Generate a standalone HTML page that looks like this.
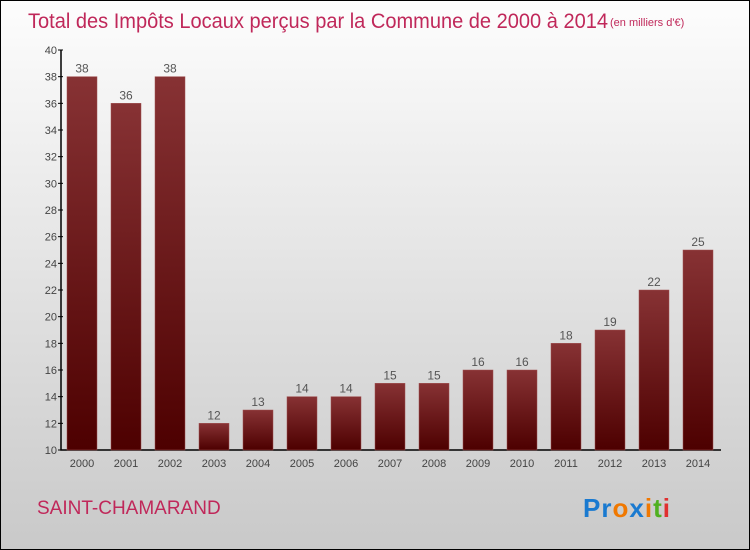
<!DOCTYPE html>
<html><head><meta charset="utf-8"><style>
body{margin:0}
#c{position:relative;width:748px;height:548px;border:1px solid #000;background:linear-gradient(#fdfdfd,#c9c9c9);font-family:"Liberation Sans",sans-serif;overflow:hidden}
</style></head><body>
<div id="c">
<svg id="s" width="748" height="548">
<defs><linearGradient id="g" x1="0" y1="0" x2="0" y2="1"><stop offset="0" stop-color="#873234"/><stop offset="1" stop-color="#4d0000"/></linearGradient></defs>
<text x="27" y="27" font-size="21" fill="#c0285a" textLength="580" lengthAdjust="spacingAndGlyphs">Total des Impôts Locaux perçus par la Commune de 2000 à 2014</text>
<text x="609" y="25" font-size="11" fill="#c0285a">(en milliers d'€)</text>
<text x="36" y="513" font-size="19" fill="#c0285a">SAINT-CHAMARAND</text>
<text x="582" y="516" font-size="26" font-weight="bold" letter-spacing="1"><tspan fill="#1a7ad0">Pr</tspan><tspan fill="#f07800">o</tspan><tspan fill="#1a7ad0">x</tspan><tspan fill="#f07800">i</tspan><tspan fill="#50b020">t</tspan><tspan fill="#e03030">i</tspan></text>
<g id="plot"></g>
</svg>
</div>
<script>
const years=["2000","2001","2002","2003","2004","2005","2006","2007","2008","2009","2010","2011","2012","2013","2014"];
const values=[38,36,38,12,13,14,14,15,15,16,16,18,19,22,25];
const yTicks=[10,12,14,16,18,20,22,24,26,28,30,32,34,36,38,40];
const NS="http://www.w3.org/2000/svg";
const g=document.getElementById('plot');
const x0=60,y0=449,yTop=49,yMin=10,yMax=40;
const y=v=>y0-(v-yMin)/(yMax-yMin)*(y0-yTop);
const step=44,bw=30;
const xc=i=>81+i*step;
function el(t,a){const e=document.createElementNS(NS,t);for(const k in a)e.setAttribute(k,a[k]);g.appendChild(e);return e;}
const ax=el('path',{d:`M${x0} ${yTop}V${y0}H720`,stroke:'#000',fill:'none','stroke-width':1.5});


yTicks.forEach(v=>{
 const t=el('line',{x1:x0-3,x2:x0+2,y1:y(v),y2:y(v),stroke:'#000'});
 
 
 const l=el('text',{x:x0-4,y:y(v)+4,'font-size':11,fill:'#444','text-anchor':'end'});
 l.textContent=v;
 
 
});
values.forEach((v,i)=>{
 const r=el('rect',{x:xc(i)-bw/2,y:y(v),width:bw,height:y0-y(v),fill:'url(#g)',stroke:'#a05050','stroke-width':0.5});
 
 
 const t=el('text',{x:xc(i),y:y(v)-4,'font-size':12,fill:'#555','text-anchor':'middle'});
 t.textContent=v;
 
 
 const xl=el('text',{x:xc(i),y:466,'font-size':11,fill:'#444','text-anchor':'middle'});
 xl.textContent=years[i];
 
 
});
</script>
</body></html>
